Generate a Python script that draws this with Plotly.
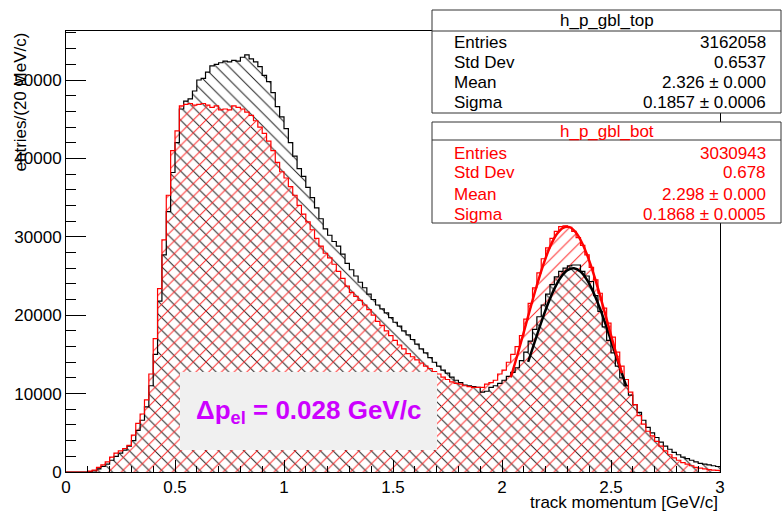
import numpy as np
import plotly.graph_objects as go

# ---------------- data ----------------
BIN_WIDTH = 0.02  # GeV/c (20 MeV/c bins from 0 to 3)

top_counts = [
    0, 0, 0, 0, 0,
    50, 150, 400, 700, 1000,
    1500, 2000, 2400, 2800, 3300,
    4000, 5300, 6600, 8300, 11000,
    15000, 21800, 27700, 33200, 38200,
    42000, 46300, 47300, 47600, 48600,
    50000, 50200, 51000, 51800, 52000,
    52200, 52400, 52300, 52500, 52400,
    52900, 53200, 52700, 52300, 51700,
    50600, 49800, 48400, 46600, 45300,
    43800, 42000, 40300, 38700, 37700,
    36300, 35000, 33700, 32300, 31000,
    30200, 29400, 28800, 27800, 26600,
    25800, 25000, 24200, 23500, 22700,
    22000, 21300, 20800, 20300, 19700,
    19100, 18600, 18000, 17500, 16900,
    16300, 15700, 15200, 14600, 14000,
    13500, 13000, 12600, 12100, 11700,
    11400, 11100, 11000, 10900, 10800,
    10200, 10300, 10800, 11000, 11300,
    11700, 12200, 12700, 13300, 14200,
    15300, 16700, 18200, 19800, 21300,
    22700, 23900, 24900, 25600, 26000,
    26300, 26400, 26400, 25600, 25000,
    24300, 22500, 20500, 18500, 16800,
    15200, 13500, 12000, 11000, 9800,
    8600, 7600, 6600, 5700, 5000,
    4400, 3800, 3300, 2900, 2500,
    2200, 1900, 1700, 1500, 1300,
    1100, 1000, 900, 800, 700,
]

bot_counts = [
    0, 0, 0, 0, 0,
    100, 250, 600, 900, 1300,
    1900, 2400, 2700, 3000, 3400,
    4700, 6200, 7400, 9200, 12500,
    17000, 23400, 29600, 35300, 41000,
    43500, 46700, 46900, 47000, 46800,
    46900, 47000, 46800, 46500, 46700,
    46200, 46300, 46200, 46700, 46500,
    46300, 45900, 45500, 44800, 44000,
    43200, 42200, 41000, 39500, 38300,
    37500, 36400, 35300, 34000, 32900,
    31900, 30900, 29800, 28800, 27900,
    27300, 26500, 25600, 24700, 23700,
    22900, 22400, 21900, 21300, 20700,
    20000, 19200, 18700, 18000, 17400,
    16800, 16200, 15700, 15100, 14700,
    14300, 13900, 13500, 13200, 12800,
    12500, 12100, 11800, 11500, 11300,
    11200, 11000, 10900, 10800, 10800,
    10800, 11200, 11400, 11700, 12500,
    13000, 14000, 15000, 16000, 17400,
    19500, 21500, 23500, 25400, 27200,
    28600, 29800, 30700, 31300, 31400,
    31200, 30700, 29900, 28900, 27700,
    26100, 24500, 22800, 20900, 19000,
    17200, 15300, 13500, 11800, 10200,
    8600, 7200, 6100, 5200, 4600,
    3900, 3300, 2700, 2200, 1800,
    1500, 1200, 1000, 800, 600,
    500, 400, 300, 250, 200,
]

# Gaussian fit curves
top_fit_x = [2.12, 2.15, 2.18, 2.21, 2.24, 2.27, 2.30, 2.33, 2.36, 2.39,
             2.42, 2.45, 2.48, 2.51, 2.54, 2.57]
top_fit_y = [14060, 16590, 19090, 21390, 23360, 24840, 25750, 26000, 25570,
             24500, 22870, 20800, 18440, 15910, 13380, 10970]
bot_fit_x = [2.04, 2.07, 2.10, 2.13, 2.16, 2.19, 2.22, 2.25, 2.28, 2.31,
             2.34, 2.37, 2.40, 2.43, 2.46, 2.49, 2.52, 2.55]
bot_fit_y = [12060, 14860, 17840, 20890, 23820, 26490, 28690, 30280, 31150,
             31240, 30520, 29060, 26970, 24390, 21490, 18460, 15450, 12600]

x_tick_vals = [0, 0.5, 1, 1.5, 2, 2.5, 3]
x_tick_text = ["0", "0.5", "1", "1.5", "2", "2.5", "3"]
y_tick_vals = [0, 10000, 20000, 30000, 40000, 50000]
y_tick_text = ["0", "10000", "20000", "30000", "40000", "50000"]

top_stats = [("Entries", "3162058"), ("Std Dev", "0.6537"),
             ("Mean", "2.326 ± 0.000"), ("Sigma", "0.1857 ± 0.0006")]
bot_stats = [("Entries", "3030943"), ("Std Dev", "0.678"),
             ("Mean", "2.298 ± 0.000"), ("Sigma", "0.1868 ± 0.0005")]

# ---------------- geometry helpers ----------------
W, H = 782, 513
L, R, T, B = 66, 62, 31, 41
PW, PH = W - L - R, H - T - B
FONT = "Liberation Sans, Arial, Helvetica, sans-serif"


def px(x):
    return (x - L) / PW


def py(y):
    return (H - B - y) / PH


n = len(top_counts)
edges = np.round(np.arange(n + 1) * BIN_WIDTH, 4)
centers = edges[:-1] + BIN_WIDTH / 2

fig = go.Figure()

# hatched fills
fig.add_trace(go.Bar(
    x=centers, y=top_counts, width=BIN_WIDTH,
    marker=dict(color="rgba(0,0,0,0)", line=dict(width=0),
                pattern=dict(shape="\\", fgcolor="#222222", bgcolor="rgba(0,0,0,0)",
                             size=9, solidity=0.11, fillmode="replace")),
    showlegend=False, hoverinfo="skip"))
fig.add_trace(go.Bar(
    x=centers, y=bot_counts, width=BIN_WIDTH,
    marker=dict(color="rgba(0,0,0,0)", line=dict(width=0),
                pattern=dict(shape="/", fgcolor="#ff2a2a", bgcolor="rgba(0,0,0,0)",
                             size=9, solidity=0.11, fillmode="replace")),
    showlegend=False, hoverinfo="skip"))

# histogram outlines
fig.add_trace(go.Scatter(x=edges, y=list(top_counts) + [top_counts[-1]], mode="lines",
                         line=dict(shape="hv", color="black", width=1.2),
                         showlegend=False, hoverinfo="skip"))
fig.add_trace(go.Scatter(x=edges, y=list(bot_counts) + [bot_counts[-1]], mode="lines",
                         line=dict(shape="hv", color="red", width=1.2),
                         showlegend=False, hoverinfo="skip"))

# fit curves
fig.add_trace(go.Scatter(x=top_fit_x, y=top_fit_y, mode="lines",
                         line=dict(shape="spline", color="black", width=2.5),
                         showlegend=False, hoverinfo="skip"))
fig.add_trace(go.Scatter(x=bot_fit_x, y=bot_fit_y, mode="lines",
                         line=dict(shape="spline", color="red", width=2.5),
                         showlegend=False, hoverinfo="skip"))

shapes = []
annotations = []


def stats_box(y_top, y_sep, y_bot, title, rows, row_ys, color):
    shapes.append(dict(type="rect", xref="paper", yref="paper", layer="above",
                       x0=px(432), x1=px(781), y0=py(y_bot), y1=py(y_top),
                       line=dict(color="#333333", width=1), fillcolor="white"))
    shapes.append(dict(type="line", xref="paper", yref="paper", layer="above",
                       x0=px(432), x1=px(781), y0=py(y_sep), y1=py(y_sep),
                       line=dict(color="#333333", width=1)))
    annotations.append(dict(xref="paper", yref="paper", x=px(607), y=py((y_top + y_sep) / 2),
                            text=title, showarrow=False, xanchor="center", yanchor="middle",
                            font=dict(family=FONT, size=17, color=color)))
    for (lab, val), yy in zip(rows, row_ys):
        annotations.append(dict(xref="paper", yref="paper", x=px(452), y=py(yy), text=lab,
                                showarrow=False, xanchor="left", yanchor="middle",
                                font=dict(family=FONT, size=17, color=color)))
        annotations.append(dict(xref="paper", yref="paper", x=px(768), y=py(yy), text=val,
                                showarrow=False, xanchor="right", yanchor="middle",
                                font=dict(family=FONT, size=17, color=color)))


stats_box(10, 31, 113, "h_p_gbl_top", top_stats, [42, 62, 82, 102], "black")
stats_box(122, 140, 223, "h_p_gbl_bot", bot_stats, [153, 173, 194, 214], "red")

# Delta p box
shapes.append(dict(type="rect", xref="paper", yref="paper", layer="above",
                   x0=px(180), x1=px(437), y0=py(450), y1=py(372),
                   line=dict(width=0), fillcolor="#f0f0f0"))
annotations.append(dict(xref="paper", yref="paper", x=px(308), y=py(411),
                        text="<b>Δp<sub>el</sub> = 0.028 GeV/c</b>", showarrow=False,
                        xanchor="center", yanchor="middle",
                        font=dict(family=FONT, size=26, color="#cc00ff")))

# axis titles (ROOT style: aligned to the axis ends)
annotations.append(dict(xref="paper", yref="paper", x=1.0, y=py(502),
                        text="track momentum [GeV/c]", showarrow=False,
                        xanchor="right", yanchor="middle",
                        font=dict(family=FONT, size=17, color="black")))
annotations.append(dict(xref="paper", yref="paper", x=px(20), y=1.0,
                        text="entries/(20 MeV/c)", showarrow=False, textangle=-90,
                        xanchor="center", yanchor="top",
                        font=dict(family=FONT, size=17, color="black")))

fig.update_layout(
    width=W, height=H,
    margin=dict(l=L, r=R, t=T, b=B, pad=0),
    paper_bgcolor="white", plot_bgcolor="white",
    barmode="overlay", bargap=0,
    showlegend=False,
    font=dict(family=FONT, size=17, color="black"),
    shapes=shapes, annotations=annotations,
    xaxis=dict(range=[0, 3], showgrid=False, zeroline=False,
               showline=True, linecolor="black", linewidth=1, mirror=True,
               ticks="inside", ticklen=12, tickcolor="black",
               tickmode="array", tickvals=x_tick_vals, ticktext=x_tick_text,
               minor=dict(ticks="inside", ticklen=6, dtick=0.1, tick0=0,
                          tickcolor="black", showgrid=False),
               tickfont=dict(family=FONT, size=17, color="black")),
    yaxis=dict(range=[0, 56250], showgrid=False, zeroline=False,
               showline=True, linecolor="black", linewidth=1, mirror=True,
               ticks="inside", ticklen=20, tickcolor="black",
               tickmode="array", tickvals=y_tick_vals, ticktext=y_tick_text,
               minor=dict(ticks="inside", ticklen=10, dtick=2000, tick0=0,
                          tickcolor="black", showgrid=False),
               tickfont=dict(family=FONT, size=17, color="black")),
)

fig.write_html("out.html")
